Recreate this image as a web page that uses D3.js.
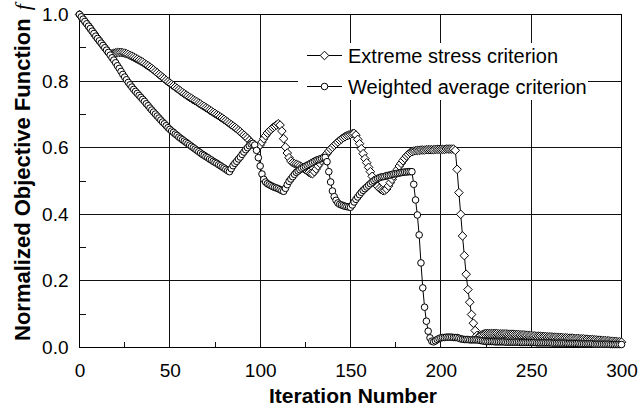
<!DOCTYPE html>
<html>
<head>
<meta charset="utf-8">
<script src="https://cdn.jsdelivr.net/npm/d3@7"></script>
<style>
  body { margin: 0; background: #fff; }
  svg { display: block; font-family: "Liberation Sans", Arial, sans-serif; }
</style>
</head>
<body>
<div id="root"></div>
<script>
// iteration axis ticks
const xTicks = [0, 50, 100, 150, 200, 250, 300];
const xMinor = [25, 75, 125, 175, 225, 275];
const yTicks = [0, 0.2, 0.4, 0.6, 0.8, 1.0];
const yMinor = [0.1, 0.3, 0.5, 0.7, 0.9];
const seriesNames = ["Extreme stress criterion", "Weighted average criterion"];

// Extreme stress criterion (diamonds), iterations 0..300
const extremeStress = [
  1.000, 0.993, 0.986, 0.979, 0.972, 0.965, 0.958, 0.950, 0.943, 0.935,
  0.928, 0.921, 0.914, 0.907, 0.900, 0.893, 0.886, 0.880, 0.882, 0.884,
  0.885, 0.886, 0.886, 0.886, 0.885, 0.884, 0.882, 0.880, 0.877, 0.875,
  0.872, 0.869, 0.866, 0.863, 0.860, 0.857, 0.853, 0.849, 0.846, 0.842,
  0.838, 0.834, 0.829, 0.825, 0.820, 0.816, 0.811, 0.807, 0.802, 0.798,
  0.794, 0.790, 0.786, 0.782, 0.778, 0.774, 0.770, 0.766, 0.762, 0.758,
  0.755, 0.751, 0.748, 0.744, 0.741, 0.738, 0.734, 0.731, 0.727, 0.724,
  0.720, 0.717, 0.713, 0.710, 0.706, 0.703, 0.699, 0.696, 0.692, 0.689,
  0.685, 0.681, 0.677, 0.673, 0.669, 0.665, 0.661, 0.657, 0.652, 0.648,
  0.643, 0.638, 0.633, 0.628, 0.622, 0.616, 0.611, 0.606, 0.603, 0.602,
  0.608, 0.617, 0.627, 0.636, 0.644, 0.650, 0.655, 0.660, 0.664, 0.668,
  0.672, 0.668, 0.650, 0.627, 0.602, 0.584, 0.570, 0.560, 0.555, 0.552,
  0.550, 0.548, 0.545, 0.542, 0.538, 0.534, 0.530, 0.526, 0.523, 0.522,
  0.528, 0.536, 0.545, 0.553, 0.561, 0.568, 0.576, 0.583, 0.590, 0.596,
  0.601, 0.607, 0.612, 0.617, 0.622, 0.626, 0.630, 0.633, 0.636, 0.638,
  0.640, 0.642, 0.643, 0.638, 0.625, 0.612, 0.597, 0.582, 0.567, 0.555,
  0.541, 0.528, 0.514, 0.501, 0.491, 0.484, 0.478, 0.474, 0.471, 0.472,
  0.476, 0.485, 0.495, 0.505, 0.515, 0.525, 0.535, 0.545, 0.553, 0.561,
  0.568, 0.575, 0.580, 0.585, 0.588, 0.590, 0.591, 0.592, 0.592, 0.593,
  0.593, 0.593, 0.594, 0.594, 0.594, 0.594, 0.594, 0.595, 0.595, 0.595,
  0.595, 0.595, 0.595, 0.596, 0.596, 0.596, 0.596, 0.596, 0.592, 0.535,
  0.465, 0.400, 0.335, 0.276, 0.220, 0.174, 0.136, 0.099, 0.073, 0.051,
  0.036, 0.032, 0.036, 0.039, 0.041, 0.042, 0.042, 0.042, 0.042, 0.042,
  0.042, 0.042, 0.041, 0.041, 0.041, 0.041, 0.041, 0.040, 0.040, 0.040,
  0.040, 0.039, 0.039, 0.039, 0.038, 0.038, 0.038, 0.037, 0.037, 0.036,
  0.036, 0.035, 0.035, 0.034, 0.034, 0.034, 0.033, 0.033, 0.033, 0.032,
  0.032, 0.032, 0.031, 0.031, 0.031, 0.030, 0.030, 0.030, 0.029, 0.029,
  0.029, 0.028, 0.028, 0.028, 0.027, 0.027, 0.027, 0.026, 0.026, 0.026,
  0.025, 0.025, 0.024, 0.024, 0.024, 0.023, 0.023, 0.022, 0.022, 0.021,
  0.021, 0.021, 0.020, 0.020, 0.019, 0.019, 0.018, 0.018, 0.017, 0.017,
  0.016
];

// Weighted average criterion (circles), iterations 0..300
const weightedAvg = [
  1.000, 0.993, 0.986, 0.979, 0.972, 0.965, 0.958, 0.950, 0.943, 0.935,
  0.928, 0.921, 0.914, 0.907, 0.900, 0.893, 0.886, 0.878, 0.870, 0.863,
  0.855, 0.846, 0.838, 0.829, 0.820, 0.812, 0.804, 0.796, 0.789, 0.782,
  0.775, 0.769, 0.763, 0.757, 0.751, 0.745, 0.739, 0.732, 0.726, 0.719,
  0.713, 0.707, 0.701, 0.695, 0.689, 0.683, 0.677, 0.672, 0.666, 0.660,
  0.655, 0.650, 0.646, 0.641, 0.637, 0.632, 0.628, 0.624, 0.620, 0.616,
  0.612, 0.608, 0.604, 0.600, 0.596, 0.592, 0.588, 0.584, 0.580, 0.577,
  0.573, 0.570, 0.566, 0.563, 0.559, 0.556, 0.553, 0.549, 0.546, 0.542,
  0.539, 0.535, 0.531, 0.528, 0.537, 0.546, 0.553, 0.559, 0.566, 0.572,
  0.580, 0.587, 0.594, 0.600, 0.606, 0.611, 0.613, 0.608, 0.592, 0.570,
  0.545, 0.521, 0.505, 0.497, 0.492, 0.489, 0.486, 0.483, 0.481, 0.479,
  0.477, 0.474, 0.471, 0.469, 0.478, 0.489, 0.499, 0.506, 0.513, 0.520,
  0.526, 0.530, 0.534, 0.538, 0.541, 0.544, 0.547, 0.550, 0.553, 0.556,
  0.559, 0.562, 0.564, 0.566, 0.568, 0.570, 0.571, 0.558, 0.528, 0.497,
  0.470, 0.453, 0.442, 0.434, 0.430, 0.428, 0.426, 0.424, 0.423, 0.422,
  0.421, 0.428, 0.437, 0.445, 0.452, 0.459, 0.466, 0.472, 0.477, 0.482,
  0.487, 0.492, 0.497, 0.501, 0.505, 0.508, 0.510, 0.512, 0.513, 0.514,
  0.516, 0.517, 0.518, 0.520, 0.521, 0.522, 0.523, 0.524, 0.525, 0.526,
  0.527, 0.527, 0.528, 0.528, 0.528, 0.490, 0.443, 0.398, 0.338, 0.254,
  0.179, 0.121, 0.079, 0.049, 0.029, 0.019, 0.017, 0.020, 0.024, 0.027,
  0.029, 0.030, 0.030, 0.031, 0.031, 0.031, 0.031, 0.030, 0.030, 0.030,
  0.028, 0.026, 0.025, 0.024, 0.024, 0.024, 0.023, 0.023, 0.023, 0.023,
  0.023, 0.022, 0.021, 0.020, 0.019, 0.018, 0.018, 0.018, 0.018, 0.018,
  0.017, 0.017, 0.017, 0.017, 0.017, 0.017, 0.016, 0.016, 0.016, 0.016,
  0.016, 0.016, 0.016, 0.016, 0.015, 0.015, 0.015, 0.015, 0.015, 0.015,
  0.015, 0.015, 0.015, 0.014, 0.014, 0.014, 0.014, 0.014, 0.014, 0.014,
  0.014, 0.014, 0.013, 0.013, 0.013, 0.013, 0.013, 0.013, 0.013, 0.013,
  0.012, 0.012, 0.012, 0.012, 0.012, 0.012, 0.012, 0.011, 0.011, 0.011,
  0.011, 0.011, 0.011, 0.011, 0.011, 0.010, 0.010, 0.010, 0.010, 0.010,
  0.010, 0.010, 0.010, 0.010, 0.009, 0.009, 0.009, 0.009, 0.009, 0.009,
  0.009
];

const width = 639, height = 406;
const plot = { left: 79.5, right: 621.5, top: 14.5, bottom: 347.5 };

const svg = d3.select("#root").append("svg")
  .attr("width", width).attr("height", height);

const x = d3.scaleLinear().domain([0, 300]).range([plot.left, plot.right]);
const y = d3.scaleLinear().domain([0, 1]).range([plot.bottom, plot.top]);

// gridlines
const grid = svg.append("g").attr("stroke", "#111").attr("stroke-width", 1)
  .attr("shape-rendering", "crispEdges");
grid.selectAll(".vg").data(xTicks.slice(1, -1)).enter().append("line")
  .attr("x1", d => x(d)).attr("x2", d => x(d))
  .attr("y1", plot.top).attr("y2", plot.bottom);
grid.selectAll(".hg").data(yTicks.slice(1, -1)).enter().append("line")
  .attr("x1", plot.left).attr("x2", plot.right)
  .attr("y1", d => y(d)).attr("y2", d => y(d));

// minor inward ticks
grid.selectAll(".xm").data(xMinor).enter().append("line")
  .attr("x1", d => x(d)).attr("x2", d => x(d))
  .attr("y1", plot.bottom).attr("y2", plot.bottom - 6);
grid.selectAll(".ym").data(yMinor).enter().append("line")
  .attr("x1", plot.left).attr("x2", plot.left + 6)
  .attr("y1", d => y(d)).attr("y2", d => y(d));

// plot frame
svg.append("rect")
  .attr("x", plot.left).attr("y", plot.top)
  .attr("width", plot.right - plot.left).attr("height", plot.bottom - plot.top)
  .attr("fill", "none").attr("stroke", "#000").attr("shape-rendering", "crispEdges");

// tick labels via d3 axes (text only)
const xAxis = d3.axisBottom(x).tickValues(xTicks).tickSize(0).tickPadding(16);
svg.append("g").attr("transform", `translate(0,${plot.bottom})`).call(xAxis)
  .call(g => g.select(".domain").remove())
  .selectAll("text").attr("font-size", 19).attr("fill", "#000")
  .attr("font-family", "Liberation Sans, Arial, sans-serif");

const yAxis = d3.axisLeft(y).tickValues(yTicks).tickSize(0).tickPadding(11)
  .tickFormat(d3.format(".1f"));
svg.append("g").attr("transform", `translate(${plot.left},0)`).call(yAxis)
  .call(g => g.select(".domain").remove())
  .selectAll("text").attr("font-size", 19).attr("fill", "#000")
  .attr("font-family", "Liberation Sans, Arial, sans-serif");

// series
const diamond = "M0,-4.3L4.3,0L0,4.3L-4.3,0Z";
const line = d3.line().x((d, i) => x(i)).y(d => y(d));

const drawSeries = (data, shape) => {
  const g = svg.append("g");
  g.append("path").datum(data).attr("d", line)
    .attr("fill", "none").attr("stroke", "#000").attr("stroke-width", 1);
  if (shape === "diamond") {
    g.selectAll("path.m").data(data).enter().append("path")
      .attr("class", "m").attr("d", diamond)
      .attr("transform", (d, i) => `translate(${x(i)},${y(d)})`)
      .attr("fill", "#fff").attr("stroke", "#000").attr("stroke-width", 1);
  } else {
    g.selectAll("circle").data(data).enter().append("circle")
      .attr("cx", (d, i) => x(i)).attr("cy", d => y(d)).attr("r", 3.3)
      .attr("fill", "#fff").attr("stroke", "#000").attr("stroke-width", 1);
  }
};
drawSeries(extremeStress, "diamond");
drawSeries(weightedAvg, "circle");

// legend
const legend = svg.append("g");
legend.append("rect").attr("x", 298).attr("y", 43).attr("width", 290).attr("height", 57)
  .attr("fill", "#fff");
const rows = [{ name: seriesNames[0], shape: "diamond", y: 55.5 },
              { name: seriesNames[1], shape: "circle", y: 86.5 }];
rows.forEach(r => {
  legend.append("line").attr("x1", 307).attr("x2", 342).attr("y1", r.y).attr("y2", r.y)
    .attr("stroke", "#000");
  if (r.shape === "diamond") {
    legend.append("path").attr("d", diamond).attr("transform", `translate(324.5,${r.y})`)
      .attr("fill", "#fff").attr("stroke", "#000").attr("stroke-width", 1);
  } else {
    legend.append("circle").attr("cx", 324.5).attr("cy", r.y).attr("r", 3.3)
      .attr("fill", "#fff").attr("stroke", "#000").attr("stroke-width", 1);
  }
  legend.append("text").attr("x", 348).attr("y", r.y + 7.5)
    .attr("font-size", 20).attr("fill", "#000").text(r.name);
});

// axis titles
svg.append("text").attr("x", 353).attr("y", 403)
  .attr("text-anchor", "middle").attr("font-size", 21).attr("font-weight", "bold")
  .text("Iteration Number");

const yTitle = svg.append("text")
  .attr("transform", "translate(30,341) rotate(-90)")
  .attr("font-size", 22).attr("font-weight", "bold");
yTitle.append("tspan").text("Normalized Objective Function");
yTitle.append("tspan").attr("dx", 8)
  .attr("font-family", "Liberation Serif, Times New Roman, serif")
  .attr("font-style", "italic").attr("font-weight", "normal").text("f");
</script>
</body>
</html>
